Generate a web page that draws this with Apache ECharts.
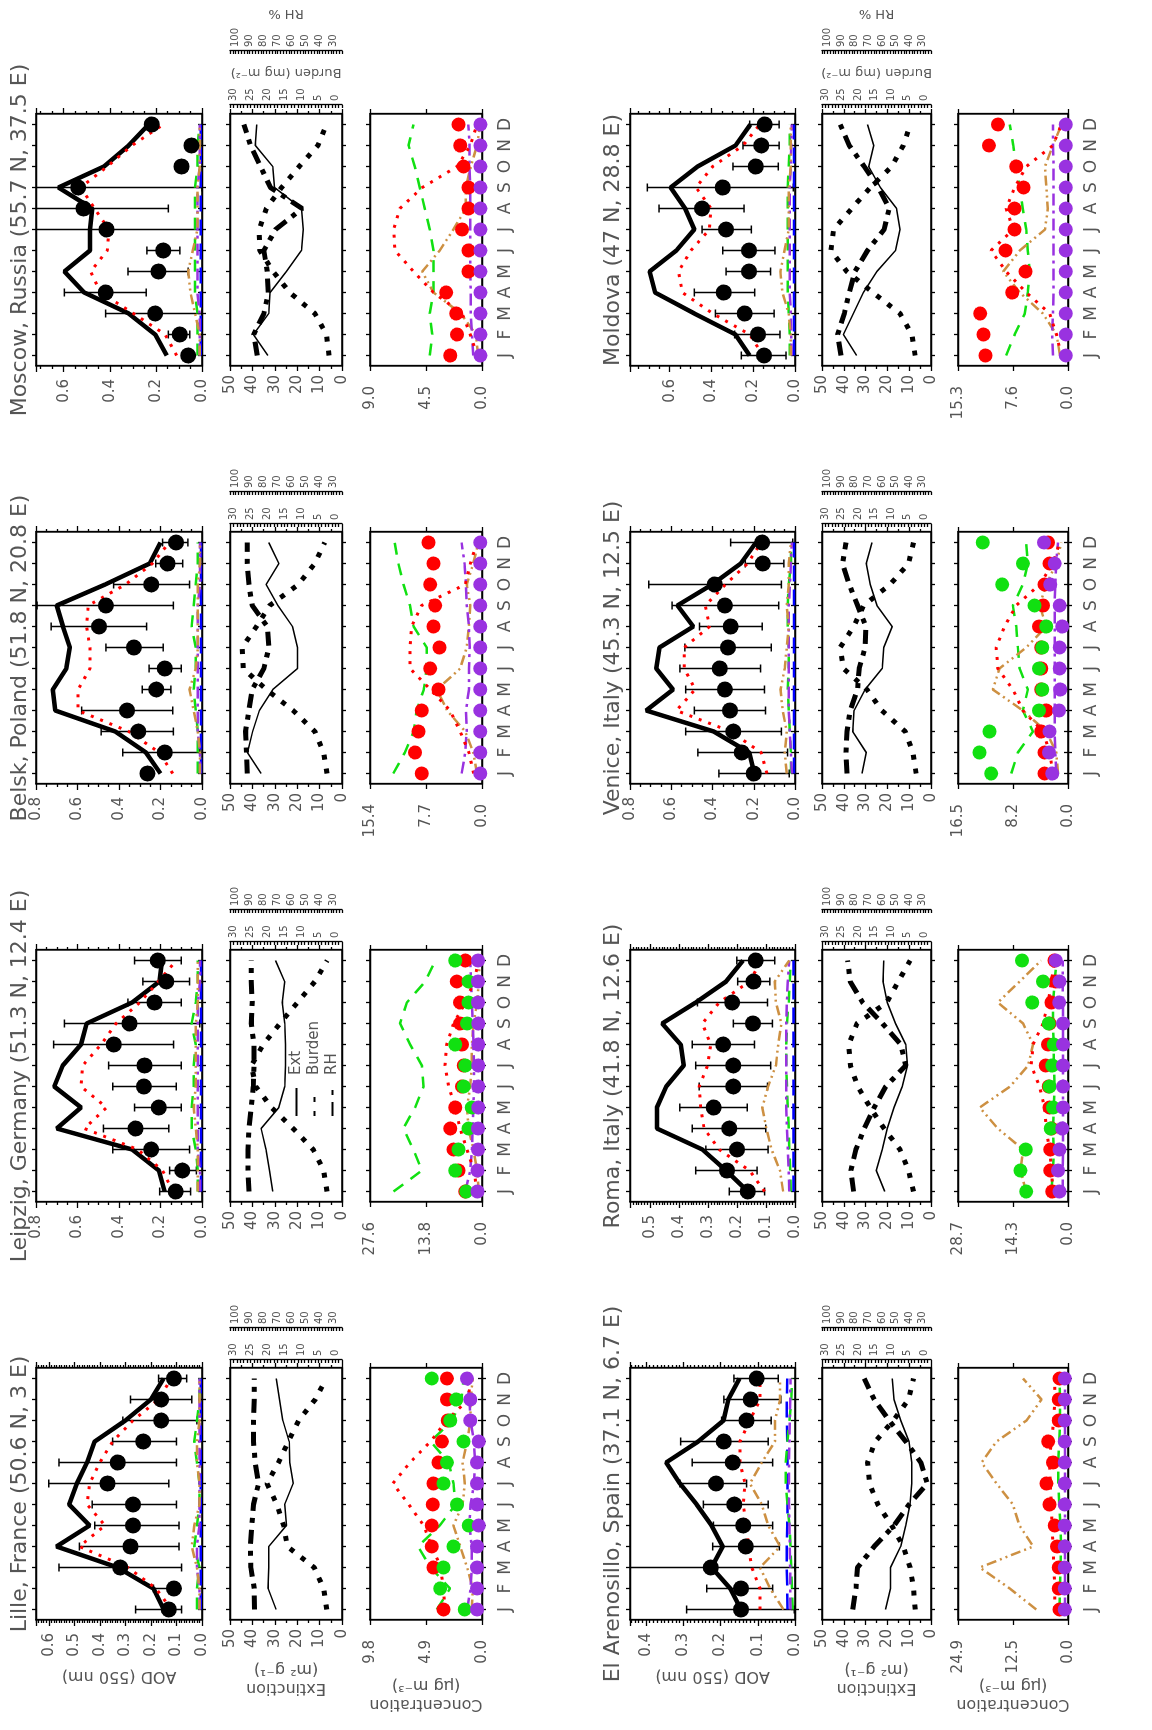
<!DOCTYPE html>
<html><head><meta charset="utf-8">
<script src="https://cdn.jsdelivr.net/npm/echarts@6/dist/echarts.min.js"></script>
<style>
html,body{margin:0;padding:0;width:1152px;height:1730px;overflow:hidden;background:#fff}
#wrap{position:absolute;left:0;top:0;width:1730px;height:1152px;transform-origin:0 0;transform:translateY(1730px) rotate(-90deg)}
#chart{width:1730px;height:1152px}
</style></head>
<body><div id="wrap"><div id="chart"></div></div>
<script>
const months = ['J','F','M','A','M','J','J','A','S','O','N','D'];
const stationTitles = ['Lille, France (50.6 N, 3 E)','Leipzig, Germany (51.3 N, 12.4 E)','Belsk, Poland (51.8 N, 20.8 E)','Moscow, Russia (55.7 N, 37.5 E)',
  'El Arenosillo, Spain (37.1 N, 6.7 E)','Roma, Italy (41.8 N, 12.6 E)','Venice, Italy (45.3 N, 12.5 E)','Moldova (47 N, 28.8 E)'];
const aodMax = [0.65,0.8,0.8,0.72,0.443,0.57,0.8,0.79];
const aodStep = [0.1,0.2,0.2,0.2,0.1,0.1,0.2,0.2];
const concMax = [9.8,27.6,15.4,9.0,24.94,28.66,16.46,15.28];

// ---------- Lille ----------
const lilleAod = [0.13,0.11,0.32,0.28,0.27,0.27,0.37,0.33,0.23,0.16,0.16,0.11];
const lilleAodLo = [0.08,0.10,0.08,0.09,0.09,0.10,0.13,0.10,0.10,0.02,0.04,0.06];
const lilleAodHi = [0.26,0.19,0.56,0.48,0.42,0.43,0.60,0.56,0.35,0.31,0.28,0.17];
const lilleAodMod = [0.15,0.19,0.33,0.57,0.44,0.52,0.49,0.45,0.42,0.30,0.20,0.15];
const lilleAodRed = [0.12,0.18,0.29,0.48,0.38,0.45,0.44,0.40,0.35,0.27,0.17,0.12];
const lilleAodGreen = [0.02,0.02,0.01,0.03,0.02,0.01,0.01,0.02,0.03,0.02,0.01,0.01];
const lilleAodPurple = [0.01,0.01,0.02,0.02,0.01,0.01,0.01,0.01,0.01,0.01,0.01,0.01];
const lilleAodTan = [0.01,0.01,0.02,0.04,0.03,0.01,0.01,0.02,0.02,0.01,0.01,0.01];
const lilleAodBlue = [0.005,0.005,0.005,0.005,0.005,0.005,0.005,0.005,0.005,0.005,0.005,0.005];
const lilleExt = [29.4,33.0,32.7,32.7,24.8,25.6,21.8,23.3,23.6,26.4,27.9,29.4];
const lilleBurden = [2.5,3.4,6.2,14.1,15.2,17.2,20.1,16.7,13.8,10.8,5.9,2.6];
const lilleRh = [86.5,86.7,89.1,89.5,88.4,87.2,83.6,86.0,87.2,87.2,86.7,86.7];
const lilleCRedObs = [3.36,null,4.24,4.39,4.39,4.30,4.24,3.80,3.51,3.0,3.07,3.07];
const lilleCGreenObs = [1.52,3.66,3.37,2.49,1.17,2.19,3.37,3.07,1.61,2.78,2.25,4.39];
const lilleCPurpleObs = [0.44,0.44,0.44,0.44,0.29,0.44,0.44,0.44,0.29,1.02,1.02,1.32];
const lilleCRed = [3.2,3.4,3.6,4.4,5.1,6.4,7.8,6.3,4.5,3.1,1.2,1.0];
const lilleCGreen = [3.95,2.8,4.5,5.6,3.7,2.3,2.5,2.9,4.5,2.6,1.8,1.6];
const lilleCTan = [0.9,0.8,1.3,1.9,2.5,1.7,1.5,1.7,1.3,1.0,1.0,0.8];
const lilleCPurple = [1.3,1.0,0.9,0.9,1.1,1.0,0.7,0.6,0.7,1.0,1.1,1.3];

// ---------- Leipzig ----------
const leipAod = [0.127,0.095,0.245,0.32,0.208,0.28,0.277,0.425,0.349,0.229,0.172,0.213];
const leipAodLo = [0.055,0.027,0.06,0.16,0.10,0.124,0.10,0.137,0.011,0.10,0.06,0.10];
const leipAodHi = [0.204,0.156,0.43,0.475,0.325,0.43,0.45,0.715,0.663,0.357,0.285,0.325];
const leipAodMod = [0.18,0.208,0.337,0.70,0.583,0.712,0.671,0.583,0.556,0.337,0.205,0.193];
const leipAodRed = [0.14,0.19,0.31,0.567,0.46,0.583,0.575,0.486,0.414,0.30,0.21,0.124];
const leipAodGreen = [0.02,0.02,0.03,0.05,0.05,0.04,0.04,0.03,0.05,0.03,0.02,0.02];
const leipAodPurple = [0.01,0.01,0.02,0.02,0.02,0.02,0.02,0.02,0.02,0.02,0.01,0.01];
const leipAodTan = [0.02,0.02,0.02,0.03,0.04,0.03,0.03,0.03,0.03,0.02,0.02,0.02];
const leipAodBlue = [0.005,0.005,0.005,0.005,0.005,0.005,0.005,0.005,0.005,0.005,0.005,0.005];
const leipExt = [30.9,32.4,33.9,36.1,28.2,25.6,25.2,25.2,25.6,26.7,25.6,29.7];
const leipBurden = [2.4,3.4,6.5,12.4,18.8,23.4,24.7,21.2,16.3,11.1,6.0,2.4];
const leipRh = [90.5,91.2,91.2,90.5,88.8,87.4,86.9,86.9,88.8,88.1,88.8,88.8];
const leipCRedObs = [4.1,5.8,7.0,7.8,6.6,4.9,4.5,4.9,5.4,5.4,6.2,4.1];
const leipCGreenObs = [3.9,6.6,5.8,3.3,2.5,4.5,4.1,6.6,3.7,3.3,3.3,6.6];
const leipCPurpleObs = [1.1,1.1,1.0,1.0,0.9,0.9,0.9,0.9,0.9,1.0,1.0,1.0];
const leipCRed = [1.2,2.0,3.7,5.4,6.6,8.2,9.1,8.7,7.0,4.1,2.0,0.8];
const leipCGreen = [21.8,14.8,16.9,19.4,16.5,14.4,14.8,17.7,20.2,18.5,14.0,11.5];
const leipCTan = [0.8,1.2,2.1,3.3,3.7,2.9,2.5,2.5,2.1,1.2,0.8,0.6];
const leipCPurple = [4.1,2.9,2.5,2.3,2.1,2.0,2.0,2.1,2.3,2.5,2.7,2.9];

// ---------- Belsk ----------
const belskAod = [0.263,0.179,0.307,0.361,0.22,0.179,0.328,0.496,0.463,0.244,0.166,0.125];
const belskAodLo = [null,0.01,0.138,0.141,0.15,0.10,0.187,0.267,0.138,0.06,0.093,0.068];
const belskAodHi = [null,0.382,0.486,0.58,0.288,0.255,0.463,0.727,0.795,0.426,0.223,0.19];
const belskAodMod = [0.20,0.27,0.418,0.707,0.719,0.654,0.637,0.67,0.70,0.467,0.252,0.20];
const belskAodRed = [0.141,0.206,0.353,0.597,0.597,0.54,0.54,0.556,0.548,0.369,0.239,0.158];
const belskAodGreen = [0.02,0.02,0.02,0.03,0.04,0.03,0.03,0.05,0.04,0.03,0.02,0.02];
const belskAodPurple = [0.01,0.01,0.02,0.02,0.02,0.02,0.02,0.02,0.02,0.01,0.01,0.01];
const belskAodTan = [0.01,0.01,0.02,0.04,0.06,0.03,0.02,0.02,0.02,0.02,0.01,0.01];
const belskAodBlue = [0.005,0.005,0.005,0.005,0.005,0.005,0.005,0.005,0.005,0.005,0.005,0.005];
const belskExt = [36.1,42.2,39.9,36.9,30.9,19.9,19.9,22.1,28.6,33.9,28.2,32.7];
const belskBurden = [2.4,3.4,6.0,12.4,20.3,27.1,27.4,23.2,19.3,10.9,6.0,3.1];
const belskRh = [91.7,92.2,92.9,90.5,88.1,79.8,76.2,77.4,88.1,90.5,91.7,91.7];
const belskCRedObs = [8.28,9.2,8.74,8.28,5.98,7.13,5.84,6.67,6.44,7.13,6.67,7.36];
const belskCPurpleObs = [0.23,0.23,0.23,0.23,0.23,0.23,0.23,0.23,0.23,0.23,0.23,0.23];
const belskCRed = [1.15,1.8,3.0,4.4,7.1,9.9,9.9,9.7,8.3,2.3,1.6,0.7];
const belskCGreen = [12.2,10.6,9.4,9.0,8.0,7.6,7.6,9.4,9.9,10.8,11.5,12.0];
const belskCTan = [0.7,1.2,2.3,4.8,6.2,3.0,2.1,1.8,1.6,2.1,1.2,0.5];
const belskCPurple = [2.8,2.3,2.1,2.2,1.8,1.8,1.7,1.8,2.1,2.2,2.4,2.8];

// ---------- Moscow ----------
const moscAod = [0.06,0.096,0.203,0.418,0.189,0.168,0.414,0.514,0.537,0.089,0.046,0.218];
const moscAodLo = [null,0.053,0.0,0.242,0.06,0.096,0.0,0.146,0.0,null,null,null];
const moscAodHi = [null,0.146,0.418,0.597,0.321,0.239,1.0,1.0,1.0,null,null,null];
const moscAodMod = [0.153,0.203,0.318,0.511,0.597,0.486,0.486,0.476,0.623,0.425,0.318,0.232];
const moscAodRed = [0.11,0.16,0.297,0.44,0.483,0.411,0.404,0.466,0.526,0.411,0.304,0.168];
const moscAodGreen = [0.02,0.02,0.02,0.03,0.03,0.03,0.03,0.03,0.03,0.02,0.02,0.01];
const moscAodPurple = [0.01,0.01,0.01,0.02,0.02,0.02,0.02,0.02,0.02,0.01,0.01,0.01];
const moscAodTan = [0.01,0.01,0.03,0.05,0.06,0.04,0.02,0.02,0.02,0.01,0.01,0.01];
const moscAodBlue = [0.005,0.005,0.005,0.005,0.005,0.005,0.005,0.005,0.005,0.005,0.005,0.005];
const moscExt = [33.1,39.6,32.7,32.1,24.8,18.1,17.3,18.1,30.1,30.9,38.7,38.1];
const moscBurden = [1.8,2.6,6.0,13.4,18.3,22.2,22.4,20.3,15.8,10.6,5.1,2.6];
const moscRh = [84.6,87.0,79.8,76.6,77.4,79.8,71.5,52.5,75.1,82.2,89.3,94.1];
const moscCRedObs = [2.55,2.0,2.07,2.88,1.08,1.08,1.61,1.08,1.08,1.48,1.75,1.88];
const moscCPurpleObs = [0.13,0.13,0.13,0.13,0.13,0.13,0.13,0.13,0.13,0.13,0.13,0.13];
const moscCRed = [0.4,0.94,1.6,3.9,5.5,7.0,7.1,6.6,4.8,2.0,0.94,0.4];
const moscCGreen = [4.2,4.0,4.2,3.9,3.9,3.9,4.2,4.6,5.0,5.4,5.9,5.5];
const moscCTan = [0.3,0.5,1.7,3.9,4.8,3.4,2.3,1.3,1.3,0.9,0.4,0.15];
const moscCPurple = [0.7,0.8,0.9,0.9,0.95,0.95,0.95,0.95,0.95,1.0,1.0,1.1];

// ---------- El Arenosillo ----------
const elaAod = [0.145,0.145,0.226,0.132,0.139,0.163,0.212,0.167,0.191,0.13,0.119,0.103];
const elaAodLo = [0.002,0.06,0.0,0.042,0.06,0.072,0.13,0.06,0.072,0.064,0.038,0.045];
const elaAodHi = [0.291,0.237,1.0,0.221,0.219,0.246,0.309,0.276,0.307,0.197,0.191,0.164];
const elaAodMod = [0.145,0.174,0.224,0.194,0.224,0.264,0.309,0.346,0.26,0.192,0.179,0.149];
const elaAodRed = [0.094,0.094,0.116,0.125,0.13,0.139,0.134,0.148,0.148,0.121,0.094,0.094];
const elaAodGreen = [0.006,0.008,0.01,0.012,0.015,0.02,0.025,0.025,0.02,0.015,0.01,0.008];
const elaAodPurple = [0.012,0.013,0.013,0.014,0.015,0.016,0.016,0.016,0.015,0.014,0.013,0.012];
const elaAodTan = [0.031,0.067,0.094,0.04,0.072,0.089,0.121,0.089,0.054,0.054,0.04,0.04];
const elaAodBlue = [0.02,0.021,0.022,0.022,0.021,0.02,0.02,0.02,0.021,0.022,0.022,0.021];
const elaExt = [20.9,18.6,18.6,13.9,11.6,9.6,8.8,8.8,10.1,13.9,17.0,17.8];
const elaBurden = [2.8,3.3,4.3,6.4,9.9,14.1,16.6,17.2,14.9,9.4,4.8,3.3];
const elaRh = [81.5,79.1,77.9,65.7,51.1,40.1,26.7,31.5,42.5,54.7,65.7,73.0];
const elaCRedObs = [1.9,2.1,2.1,2.5,3.0,4.2,4.9,3.4,4.5,2.1,2.1,1.9];
const elaCPurpleObs = [0.75,0.75,0.75,0.75,0.75,0.75,0.75,0.75,0.75,0.75,0.75,0.75];
const elaCRed = [3.0,3.0,3.2,3.4,3.6,3.8,4.0,4.2,3.8,3.2,3.0,3.0];
const elaCGreen = [1.9,1.8,1.7,1.6,1.7,2.0,2.2,2.2,2.0,1.8,1.8,1.9];
const elaCTan = [7.2,13.2,20.0,7.9,11.0,12.5,16.2,19.6,16.2,9.4,6.0,10.2];
const elaCPurple = [0.7,0.7,0.7,0.7,0.7,0.7,0.7,0.7,0.7,0.7,0.7,0.7];

// ---------- Roma ----------
const romaAod = [0.163,0.235,0.2,0.227,0.281,0.213,0.213,0.248,0.145,0.217,0.143,0.136];
const romaAodLo = [0.105,0.131,0.093,0.101,0.165,0.095,0.084,0.14,0.078,0.095,0.087,0.07];
const romaAodHi = [0.227,0.343,0.308,0.355,0.398,0.331,0.343,0.355,0.213,0.337,0.198,0.201];
const romaAodMod = [0.163,0.238,0.32,0.477,0.477,0.445,0.384,0.395,0.459,0.343,0.238,0.18];
const romaAodRed = [0.105,0.157,0.262,0.314,0.326,0.331,0.302,0.291,0.32,0.262,0.157,0.116];
const romaAodGreen = [0.015,0.016,0.02,0.022,0.025,0.028,0.03,0.03,0.028,0.022,0.018,0.015];
const romaAodPurple = [0.02,0.022,0.025,0.028,0.03,0.03,0.03,0.03,0.03,0.028,0.025,0.02];
const romaAodTan = [0.041,0.052,0.081,0.099,0.113,0.093,0.066,0.058,0.047,0.066,0.07,0.02];
const romaAodBlue = [0.005,0.005,0.005,0.005,0.005,0.005,0.005,0.005,0.005,0.005,0.005,0.005];
const romaExt = [21.2,25.1,22.4,20.1,17.0,13.2,10.8,11.6,16.3,20.1,22.0,21.7];
const romaBurden = [3.3,4.8,7.4,12.2,16.4,20.2,22.4,22.9,20.4,11.4,7.9,4.3];
const romaRh = [80.8,82.8,79.1,73.0,65.7,57.2,42.5,46.2,59.6,74.2,83.3,85.2];
const romaCRedObs = [4.1,4.6,4.6,4.3,4.8,5.0,5.8,5.2,4.8,4.3,3.2,3.5];
const romaCGreenObs = [10.9,12.4,11.0,4.5,3.9,4.8,4.1,3.7,5.0,9.3,6.5,12.0];
const romaCPurpleObs = [2.2,2.6,2.2,1.5,1.3,1.3,1.3,1.3,1.3,2.3,2.2,3.2];
const romaCRed = [3.9,4.3,4.8,5.7,6.1,7.4,9.6,9.1,6.5,5.2,4.3,3.5];
const romaCGreen = [4.3,3.9,3.7,3.9,3.7,3.5,3.7,3.7,3.9,3.9,3.5,3.0];
const romaCTan = [10.9,12.4,11.7,18.3,23.0,15.1,10.4,9.1,11.7,18.3,12.6,7.0];
const romaCPurple = [1.4,1.4,1.3,1.3,1.3,1.3,1.3,1.3,1.3,1.3,1.4,1.4];

// ---------- Venice ----------
const veniAod = [0.2,0.258,0.299,0.315,0.34,0.365,0.325,0.312,0.34,0.389,0.156,0.159];
const veniAodLo = [0.028,0.036,0.066,0.143,0.148,0.167,0.115,0.159,0.079,0.066,0.054,0.011];
const veniAodHi = [0.369,0.471,0.53,0.488,0.53,0.558,0.534,0.463,0.596,0.709,0.241,0.312];
const veniAodMod = [0.197,0.222,0.394,0.722,0.591,0.673,0.657,0.493,0.57,0.402,0.263,0.189];
const veniAodRed = [0.136,0.164,0.312,0.575,0.484,0.537,0.537,0.414,0.435,0.337,0.23,0.164];
const veniAodGreen = [0.02,0.02,0.025,0.03,0.035,0.03,0.03,0.035,0.035,0.03,0.02,0.02];
const veniAodPurple = [0.015,0.02,0.025,0.03,0.03,0.03,0.03,0.03,0.03,0.025,0.02,0.015];
const veniAodTan = [0.04,0.05,0.04,0.06,0.07,0.05,0.04,0.03,0.04,0.03,0.03,0.02];
const veniAodBlue = [0.005,0.005,0.005,0.005,0.005,0.005,0.005,0.005,0.005,0.005,0.005,0.005];
const veniExt = [31.7,29.7,35.9,35.3,30.2,22.4,21.7,17.8,24.8,27.9,29.7,27.1];
const veniBurden = [2.5,3.5,5.8,12.9,17.4,24.5,25.5,21.4,18.4,10.4,4.8,3.3];
const veniRh = [85.7,86.4,85.7,83.3,77.9,76.7,72.4,71.8,77.9,84.0,88.9,86.4];
const veniCRedObs = [3.5,3.5,4.0,3.25,4.0,4.0,4.0,4.35,3.75,3.5,2.75,3.0];
const veniCGreenObs = [11.5,13.25,11.75,4.35,3.85,4.35,3.85,3.25,5.0,9.85,6.75,12.75];
const veniCPurpleObs = [2.35,2.85,2.75,1.35,1.15,1.25,1.25,0.85,1.25,2.65,2.0,3.6];
const veniCRed = [2.25,2.75,3.75,6.75,8.25,10.5,10.75,9.5,7.75,4.25,2.25,1.25];
const veniCGreen = [8.5,7.5,5.25,6.75,6.0,7.25,7.5,7.75,8.25,6.75,6.0,6.25];
const veniCTan = [1.5,1.75,3.25,6.75,11.25,10.25,6.25,3.25,4.25,3.25,1.75,1.0];
const veniCPurple = [1.75,1.9,2.0,2.0,2.0,2.0,2.0,2.0,2.0,1.9,1.75,1.5];

// ---------- Moldova ----------
const moldAod = [0.148,0.177,0.241,0.341,0.22,0.22,0.33,0.445,0.346,0.188,0.161,0.145];
const moldAodLo = [0.043,0.072,0.1,0.193,0.117,0.096,0.209,0.244,0.008,0.08,0.076,0.076];
const moldAodHi = [0.257,0.289,0.381,0.482,0.33,0.346,0.445,0.651,0.707,0.297,0.249,0.217];
const moldAodMod = [0.217,0.285,0.482,0.67,0.696,0.568,0.482,0.526,0.595,0.466,0.285,0.214];
const moldAodRed = [0.153,0.217,0.394,0.539,0.558,0.498,0.41,0.402,0.474,0.394,0.249,0.169];
const moldAodGreen = [0.025,0.025,0.03,0.035,0.035,0.035,0.035,0.035,0.035,0.03,0.025,0.025];
const moldAodPurple = [0.015,0.018,0.02,0.025,0.025,0.025,0.025,0.025,0.025,0.02,0.018,0.015];
const moldAodTan = [0.02,0.02,0.03,0.06,0.07,0.05,0.03,0.03,0.03,0.02,0.02,0.02];
const moldAodBlue = [0.005,0.005,0.005,0.005,0.005,0.005,0.005,0.005,0.005,0.005,0.005,0.005];
const moldExt = [34.1,40.2,35.6,31.0,24.8,16.3,14.2,15.8,23.2,28.6,26.3,29.1];
const moldBurden = [2.8,3.8,7.4,15.6,23.5,28.3,27.5,22.0,16.4,9.9,6.4,4.3];
const moldRh = [90.1,92.5,87.6,84.0,79.8,70.6,58.4,54.7,62.5,73.0,84.0,90.6];
const moldCRedObs = [11.45,11.73,12.2,7.74,5.89,8.67,7.42,7.42,6.17,7.19,10.99,9.74];
const moldCPurpleObs = [0.3,0.3,0.3,0.3,0.3,0.3,0.3,0.3,0.3,0.3,0.3,0.3];
const moldCRed = [0.93,1.6,2.55,5.8,8.6,10.7,7.6,8.6,7.4,5.8,2.1,0.93];
const moldCGreen = [8.6,7.4,6.0,5.6,5.3,5.6,5.8,6.3,6.7,7.2,7.6,8.1];
const moldCTan = [1.1,1.6,3.5,6.7,9.0,6.7,3.2,2.8,3.0,3.2,2.1,0.9];
const moldCPurple = [2.1,2.2,2.1,2.0,2.0,2.0,2.0,2.0,2.0,2.0,2.1,2.1];

// table built from the arrays above
const stations = [
 {aod:lilleAod,lo:lilleAodLo,hi:lilleAodHi,mod:lilleAodMod,red:lilleAodRed,green:lilleAodGreen,purple:lilleAodPurple,tan:lilleAodTan,blue:lilleAodBlue,ext:lilleExt,bur:lilleBurden,rh:lilleRh,cRO:lilleCRedObs,cGO:lilleCGreenObs,cPO:lilleCPurpleObs,cR:lilleCRed,cG:lilleCGreen,cT:lilleCTan,cP:lilleCPurple},
 {aod:leipAod,lo:leipAodLo,hi:leipAodHi,mod:leipAodMod,red:leipAodRed,green:leipAodGreen,purple:leipAodPurple,tan:leipAodTan,blue:leipAodBlue,ext:leipExt,bur:leipBurden,rh:leipRh,cRO:leipCRedObs,cGO:leipCGreenObs,cPO:leipCPurpleObs,cR:leipCRed,cG:leipCGreen,cT:leipCTan,cP:leipCPurple},
 {aod:belskAod,lo:belskAodLo,hi:belskAodHi,mod:belskAodMod,red:belskAodRed,green:belskAodGreen,purple:belskAodPurple,tan:belskAodTan,blue:belskAodBlue,ext:belskExt,bur:belskBurden,rh:belskRh,cRO:belskCRedObs,cGO:null,cPO:belskCPurpleObs,cR:belskCRed,cG:belskCGreen,cT:belskCTan,cP:belskCPurple},
 {aod:moscAod,lo:moscAodLo,hi:moscAodHi,mod:moscAodMod,red:moscAodRed,green:moscAodGreen,purple:moscAodPurple,tan:moscAodTan,blue:moscAodBlue,ext:moscExt,bur:moscBurden,rh:moscRh,cRO:moscCRedObs,cGO:null,cPO:moscCPurpleObs,cR:moscCRed,cG:moscCGreen,cT:moscCTan,cP:moscCPurple},
 {aod:elaAod,lo:elaAodLo,hi:elaAodHi,mod:elaAodMod,red:elaAodRed,green:elaAodGreen,purple:elaAodPurple,tan:elaAodTan,blue:elaAodBlue,ext:elaExt,bur:elaBurden,rh:elaRh,cRO:elaCRedObs,cGO:null,cPO:elaCPurpleObs,cR:elaCRed,cG:elaCGreen,cT:elaCTan,cP:elaCPurple},
 {aod:romaAod,lo:romaAodLo,hi:romaAodHi,mod:romaAodMod,red:romaAodRed,green:romaAodGreen,purple:romaAodPurple,tan:romaAodTan,blue:romaAodBlue,ext:romaExt,bur:romaBurden,rh:romaRh,cRO:romaCRedObs,cGO:romaCGreenObs,cPO:romaCPurpleObs,cR:romaCRed,cG:romaCGreen,cT:romaCTan,cP:romaCPurple},
 {aod:veniAod,lo:veniAodLo,hi:veniAodHi,mod:veniAodMod,red:veniAodRed,green:veniAodGreen,purple:veniAodPurple,tan:veniAodTan,blue:veniAodBlue,ext:veniExt,bur:veniBurden,rh:veniRh,cRO:veniCRedObs,cGO:veniCGreenObs,cPO:veniCPurpleObs,cR:veniCRed,cG:veniCGreen,cT:veniCTan,cP:veniCPurple},
 {aod:moldAod,lo:moldAodLo,hi:moldAodHi,mod:moldAodMod,red:moldAodRed,green:moldAodGreen,purple:moldAodPurple,tan:moldAodTan,blue:moldAodBlue,ext:moldExt,bur:moldBurden,rh:moldRh,cRO:moldCRedObs,cGO:null,cPO:moldCPurpleObs,cR:moldCRed,cG:moldCGreen,cT:moldCTan,cP:moldCPurple}
];

// ---------- layout / styles ----------
const FF = "'DejaVu Sans', sans-serif";
const TXT = '#555';
const colLeft = [110, 528, 946, 1364];
const panelW = 252;
const rows = [
  {title: 9, aod: [36, 166], ext: [230, 112], conc: [370, 112]},
  {title: 602, aod: [630, 165], ext: [822, 109], conc: [958, 110]}
];
const AXL = {color: '#000', width: 1.3};
const RED = '#ff0000', GREEN = '#11e011', PURPLE = '#9932e0', TAN = '#cd9042', BLUE = '#0000ff';

const grids = [], xAxis = [], yAxis = [], series = [], title = [];
const isMult = (v, st) => Math.abs(v / st - Math.round(v / st)) < 1e-6;

function addCat(g, pos, opts) {
  xAxis.push({
    type: 'category', gridIndex: g, position: pos, data: months, boundaryGap: true,
    axisLine: {show: opts.line !== false, onZero: false, lineStyle: AXL},
    axisTick: {show: true, alignWithLabel: true, interval: 0, inside: !!opts.inside, length: opts.len || 4, lineStyle: AXL},
    axisLabel: opts.labels ? {show: true, interval: 0, margin: 15, color: TXT, fontSize: 17, fontFamily: FF} : {show: false},
    splitLine: {show: false}
  });
  return xAxis.length - 1;
}
function addVal(o) {
  const ax = {
    type: 'value', gridIndex: o.g, position: o.pos, offset: o.offset || 0,
    min: o.min, max: o.max, interval: o.interval,
    axisLine: {show: true, onZero: false, lineStyle: AXL},
    axisTick: {show: true, inside: !!o.inside, length: o.tickLen || 5, lineStyle: AXL},
    minorTick: o.minor ? {show: true, splitNumber: o.minor, length: 3, lineStyle: AXL} : {show: false},
    axisLabel: o.fmt ? {show: true, formatter: o.fmt, margin: o.margin || 8, color: TXT, fontSize: o.fs || 15, fontFamily: FF} : {show: false},
    splitLine: {show: false}, scale: false
  };
  if (o.name) {
    ax.name = o.name; ax.nameLocation = 'middle'; ax.nameGap = o.nameGap; ax.nameRotate = 90;
    ax.nameMoveOverlap = false;
    ax.nameTextStyle = {color: TXT, fontSize: o.nameFs || 16, fontFamily: FF, lineHeight: o.nameLh || 19};
  }
  yAxis.push(ax);
  return yAxis.length - 1;
}
function lineS(name, xi, yi, data, ls) {
  return {type: 'line', name, xAxisIndex: xi, yAxisIndex: yi, data, symbol: 'none', showSymbol: false,
    itemStyle: {color: ls.color}, lineStyle: ls, silent: true, connectNulls: false, z: 3};
}
function dotS(name, xi, yi, arr, color, size) {
  const data = [];
  arr.forEach((v, i) => { if (v != null) data.push([i, v]); });
  return {type: 'scatter', name, xAxisIndex: xi, yAxisIndex: yi, data, symbol: 'circle', symbolSize: size,
    itemStyle: {color, opacity: 1}, silent: true, z: 3};
}
function errS(xi, yi, lo, hi) {
  const data = [];
  lo.forEach((v, i) => { if (v != null && hi[i] != null) data.push([i, v, hi[i]]); });
  return {type: 'custom', name: 'err', xAxisIndex: xi, yAxisIndex: yi, data, clip: true, silent: true, z: 3,
    encode: {x: 0, y: [1, 2]},
    renderItem: function (p, api) {
      const x = api.value(0);
      const a = api.coord([x, api.value(1)]);
      const b = api.coord([x, api.value(2)]);
      const w = 4, st = {stroke: '#000', lineWidth: 1.5};
      return {type: 'group', children: [
        {type: 'line', shape: {x1: a[0], y1: a[1], x2: b[0], y2: b[1]}, style: st},
        {type: 'line', shape: {x1: a[0] - w, y1: a[1], x2: a[0] + w, y2: a[1]}, style: st},
        {type: 'line', shape: {x1: b[0] - w, y1: b[1], x2: b[0] + w, y2: b[1]}, style: st}
      ]};
    }};
}

stations.forEach((d, s) => {
  const col = s % 4, row = Math.floor(s / 4);
  const L = colLeft[col], R = rows[row];
  const gridOf = (tb) => { grids.push({left: L, top: tb[0], width: panelW, height: tb[1], show: true, borderColor: '#000', borderWidth: 1.3,
      backgroundColor: 'rgba(0,0,0,0)', containLabel: false, outerBoundsMode: 'none'}); return grids.length - 1; };
  const gA = gridOf(R.aod), gE = gridOf(R.ext), gC = gridOf(R.conc);
  title.push({text: stationTitles[s], left: L + panelW / 2, top: R.title, textAlign: 'center', padding: 0,
    textStyle: {fontSize: 22, fontWeight: 'normal', color: TXT, fontFamily: FF}});

  // ---- AOD panel
  const xA = addCat(gA, 'bottom', {len: 4});
  addCat(gA, 'bottom', {inside: true, line: false, len: 4});
  addCat(gA, 'top', {len: 4});
  const st = aodStep[s];
  const yA = addVal({g: gA, pos: 'left', min: 0, max: aodMax[s], interval: st, tickLen: 6, minor: st < 0.15 ? 10 : 4,
    fmt: v => isMult(v, st) ? v.toFixed(1) : '', margin: 13,
    name: col === 0 ? 'AOD (550 nm)' : null, nameGap: 47});
  addVal({g: gA, pos: 'right', min: 0, max: aodMax[s], interval: st, tickLen: 6, minor: st < 0.15 ? 10 : 4});
  series.push(errS(xA, yA, d.lo, d.hi));
  series.push(dotS('AOD obs', xA, yA, d.aod, '#000', 16));
  series.push(lineS('blue', xA, yA, d.blue, {color: BLUE, width: 2.5, type: [16, 8]}));
  series.push(lineS('green', xA, yA, d.green, {color: GREEN, width: 2.5, type: [12, 9]}));
  series.push(lineS('purple', xA, yA, d.purple, {color: PURPLE, width: 2.5, type: [12, 5, 3, 5]}));
  series.push(lineS('tan', xA, yA, d.tan, {color: TAN, width: 2.5, type: [10, 4, 2, 4, 2, 4]}));
  series.push(lineS('AOD model', xA, yA, d.mod, {color: '#000', width: 4.5}));
  series.push(lineS('red', xA, yA, d.red, {color: RED, width: 3, type: [3, 7]}));

  // ---- Extinction panel
  const xE = addCat(gE, 'bottom', {len: 4});
  addCat(gE, 'top', {len: 4});
  const yE = addVal({g: gE, pos: 'left', min: 0, max: 50, interval: 10, tickLen: 5, minor: 2,
    fmt: v => String(Math.round(v)), margin: 9,
    name: col === 0 ? 'Extinction\n(m² g⁻¹)' : null, nameGap: 40});
  addVal({g: gE, pos: 'right', min: 0, max: 50, interval: 10, tickLen: 5, minor: 2});
  const last = col === 3;
  const yB = addVal({g: gE, pos: 'right', offset: last ? 9 : 8, min: -2, max: 31, interval: 1, inside: true, tickLen: 3,
    fmt: v => (isMult(v, 5) && v >= 0 && v <= 30) ? String(Math.round(v)) : '', margin: 4, fs: 10,
    name: last ? 'Burden (mg m⁻²)' : null, nameGap: 25, nameFs: 13, nameLh: 15});
  const yR = addVal({g: gE, pos: 'right', offset: last ? 63 : 40, min: 24, max: 104, interval: 2, inside: true, tickLen: 3,
    fmt: v => (isMult(v, 10) && v >= 30 && v <= 100) ? String(Math.round(v)) : '', margin: 4, fs: 10,
    name: last ? 'RH %' : null, nameGap: 30, nameFs: 13, nameLh: 15});
  series.push(lineS('Ext', xE, yE, d.ext, {color: '#000', width: 1.5}));
  series.push(lineS('Burden', xE, yB, d.bur, {color: '#000', width: 5, type: [5, 9]}));
  series.push(lineS('RH', xE, yR, d.rh, {color: '#000', width: 5, type: [14, 7, 5, 7]}));

  // ---- Concentration panel
  const xC = addCat(gC, 'bottom', {len: 4, labels: true});
  addCat(gC, 'bottom', {inside: true, line: false, len: 4});
  addCat(gC, 'top', {len: 4});
  const cm = concMax[s];
  const yC = addVal({g: gC, pos: 'left', min: 0, max: cm, interval: cm / 2, tickLen: 5,
    fmt: v => v.toFixed(1), margin: 20,
    name: col === 0 ? 'Concentration\n(μg m⁻³)' : null, nameGap: 56});
  addVal({g: gC, pos: 'right', min: 0, max: cm, interval: cm / 2, tickLen: 5});
  series.push(dotS('red obs', xC, yC, d.cRO, RED, 14));
  if (d.cGO) series.push(dotS('green obs', xC, yC, d.cGO, GREEN, 14));
  series.push(dotS('purple obs', xC, yC, d.cPO, PURPLE, 14));
  series.push(lineS('green model', xC, yC, d.cG, {color: GREEN, width: 2.5, type: [12, 9]}));
  series.push(lineS('tan model', xC, yC, d.cT, {color: TAN, width: 2.5, type: [10, 4, 2, 4, 2, 4]}));
  series.push(lineS('purple model', xC, yC, d.cP, {color: PURPLE, width: 2.5, type: [12, 5, 3, 5]}));
  series.push(lineS('red model', xC, yC, d.cR, {color: RED, width: 3, type: [3, 7]}));
});

const chart = echarts.init(document.getElementById('chart'), null, {renderer: 'canvas'});
chart.setOption({
  animation: false,
  backgroundColor: '#fff',
  textStyle: {fontFamily: FF},
  title, grid: grids, xAxis, yAxis, series,
  legend: {
    data: ['Ext', 'Burden', 'RH'], orient: 'vertical', left: 613, top: 289, padding: 0,
    itemWidth: 28, itemHeight: 14, itemGap: 3, selectedMode: false,
    itemStyle: {opacity: 0, borderWidth: 0},
    lineStyle: {color: '#000'},
    textStyle: {fontSize: 15, color: TXT, fontFamily: FF, padding: [0, 0, 0, 8]}
  }
});
</script></body></html>
